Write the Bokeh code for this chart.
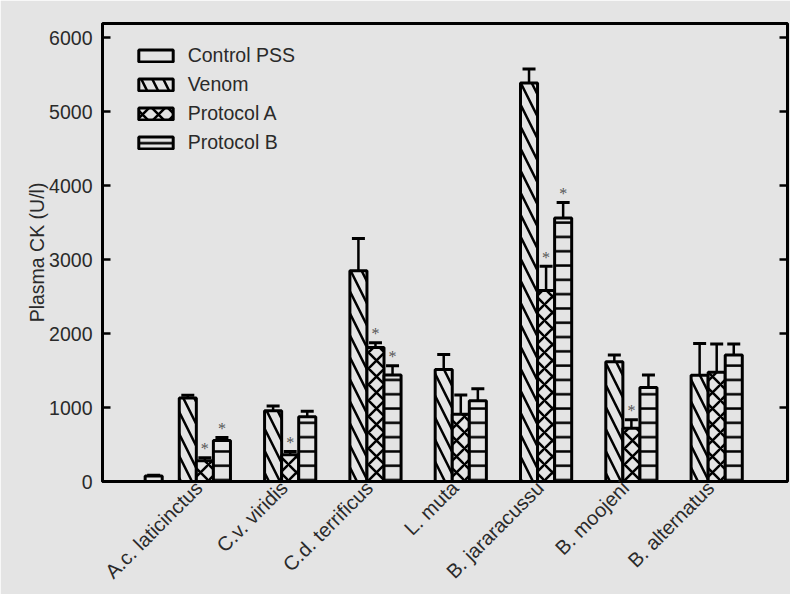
import math
from bokeh.plotting import figure
from bokeh.models import (ColumnDataSource, Whisker, TeeHead, LinearAxis, FixedTicker,
                          Legend, LegendItem, CustomJSTickFormatter)
from bokeh.embed import file_html
from bokeh.resources import INLINE

species = ["A.c. laticinctus", "C.v. viridis", "C.d. terrificus", "L. muta",
           "B. jararacussu", "B. moojeni", "B. alternatus"]
series_names = ["Control PSS", "Venom", "Protocol A", "Protocol B"]

control = [75]
control_err = [10]
venom = [1130, 955, 2850, 1515, 5385, 1620, 1435]
venom_err = [35, 65, 435, 200, 190, 90, 430]
prot_a = [280, 360, 1810, 910, 2580, 720, 1475]
prot_a_err = [40, 45, 65, 260, 330, 115, 385]
prot_b = [555, 875, 1440, 1090, 3560, 1270, 1710]
prot_b_err = [40, 75, 125, 165, 210, 170, 150]
prot_a_sig = [1, 1, 1, 0, 1, 1, 0]
prot_b_sig = [1, 0, 1, 0, 1, 0, 0]
y_ticks = [0, 1000, 2000, 3000, 4000, 5000, 6000]

BG = "#e4e4e4"
TXT = "#2a2a2a"
FONT = "Liberation Sans"
FS = "19.5px"
BAR_W = 0.2
X_END = 8.03
offsets = {"Control PSS": -0.4, "Venom": 0.0, "Protocol A": 0.2, "Protocol B": 0.4}
hatches = {"Control PSS": " ", "Venom": "\\", "Protocol A": "x", "Protocol B": "-"}
scales = {"Control PSS": 12, "Venom": 22, "Protocol A": 16, "Protocol B": 14.3}

p = figure(width=790, height=594, output_backend="svg", toolbar_location=None,
           x_range=(0, X_END), y_range=(0, 6190),
           min_border_left=102, min_border_right=3, min_border_top=23, min_border_bottom=113)
p.background_fill_color = BG
p.border_fill_color = BG
p.outline_line_color = "black"
p.outline_line_width = 3
p.xgrid.visible = False
p.ygrid.visible = False

data = {
    "Control PSS": (control, control_err, [0] * len(control)),
    "Venom": (venom, venom_err, [0] * len(venom)),
    "Protocol A": (prot_a, prot_a_err, prot_a_sig),
    "Protocol B": (prot_b, prot_b_err, prot_b_sig),
}

items = []
for name in series_names:
    vals, errs, sig = data[name]
    xs = [i + 1 + offsets[name] for i in range(len(vals))]
    src = ColumnDataSource(dict(x=xs, top=vals, upper=[v + e for v, e in zip(vals, errs)],
                                sig=sig))
    r = p.vbar(x="x", top="top", width=BAR_W, source=src, fill_color=BG,
               line_color="black", line_width=3,
               hatch_pattern=hatches[name], hatch_color="black",
               hatch_scale=scales[name], hatch_weight=2.5)
    w = Whisker(base="x", upper="upper", lower="top", source=src,
                line_color="black", line_width=2.5,
                upper_head=TeeHead(size=13, line_width=3, line_color="black"),
                lower_head=None)
    p.add_layout(w)
    sx = [x for x, s in zip(xs, sig) if s]
    sy = [v + e for v, e, s in zip(vals, errs, sig) if s]
    if sx:
        p.text(x=sx, y=sy, text=["*"] * len(sx), text_align="center",
               text_baseline="middle", y_offset=-9, text_font_size="16px",
               text_color="#555555", text_font=FONT)
    items.append(LegendItem(label=name, renderers=[r]))

legend = Legend(items=items, location=(31.7, 327), padding=0, margin=0,
                glyph_width=43, glyph_height=15, label_height=20, spacing=6,
                label_standoff=11, background_fill_alpha=0, border_line_alpha=0,
                label_text_font=FONT, label_text_font_size=FS, label_text_color=TXT)
p.add_layout(legend)

ya = p.yaxis[0]
ya.ticker = FixedTicker(ticks=y_ticks)
ya.axis_label = "Plasma CK (U/l)"
ya.axis_line_width = 3
ya.major_tick_in = 8
ya.major_tick_out = 0
ya.major_tick_line_width = 2.5
ya.minor_tick_line_color = None
ya.major_label_text_font = FONT
ya.major_label_text_font_size = FS
ya.major_label_text_color = TXT
ya.major_label_standoff = 10
ya.axis_label_text_font = FONT
ya.axis_label_text_font_size = FS
ya.axis_label_text_font_style = "normal"
ya.axis_label_text_color = TXT
ya.axis_label_standoff = -2

ra = LinearAxis(ticker=FixedTicker(ticks=y_ticks), axis_line_width=2.5,
                major_tick_in=8, major_tick_out=0, major_tick_line_width=2.5,
                minor_tick_line_color=None, fixed_location=X_END,
                formatter=CustomJSTickFormatter(code="return ''"),
                major_label_standoff=0)
p.add_layout(ra, "right")

xa = p.xaxis[0]
xa.ticker = FixedTicker(ticks=[i + 1.13 for i in range(len(species))])
xa.major_label_overrides = {i + 1.13: s for i, s in enumerate(species)}
xa.major_label_orientation = math.pi / 4
xa.axis_line_width = 3
xa.major_tick_in = 0
xa.major_tick_out = 0
xa.minor_tick_line_color = None
xa.major_label_text_font = FONT
xa.major_label_text_font_size = "20px"
xa.major_label_text_color = TXT
xa.major_label_standoff = 3

html = file_html(p, INLINE)
open("out.html", "w").write(html)
